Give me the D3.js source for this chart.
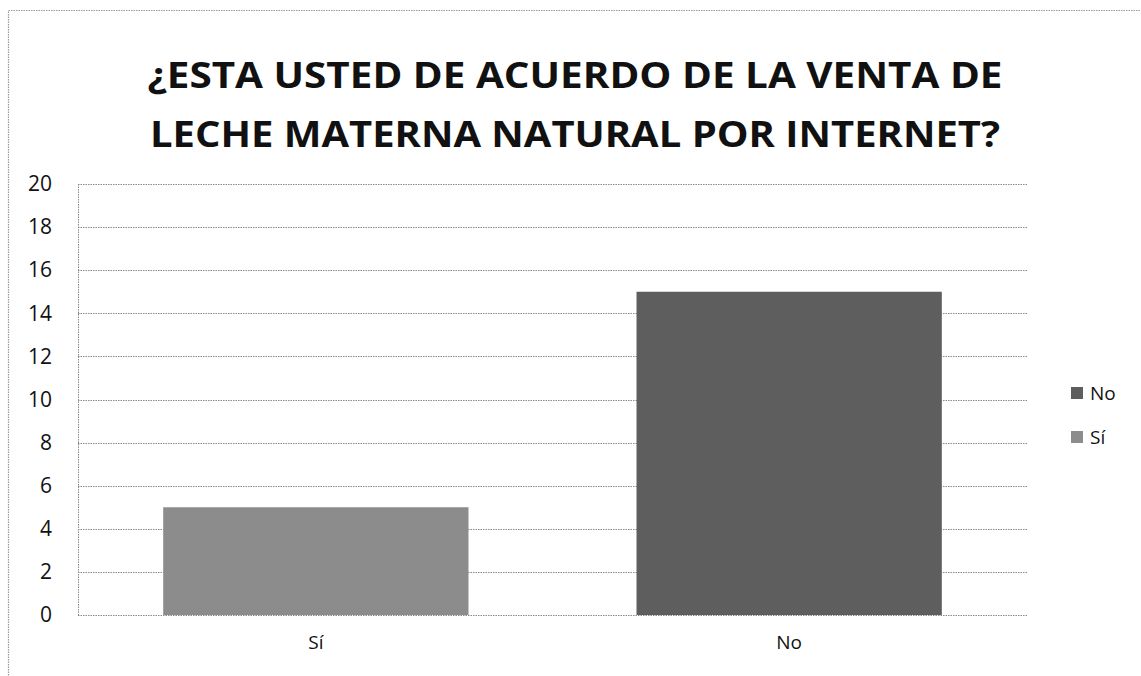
<!DOCTYPE html>
<html>
<head>
<meta charset="utf-8">
<script src="https://cdn.jsdelivr.net/npm/d3@7"></script>
<style>
  html, body { margin: 0; padding: 0; background: #fff; }
  svg { display: block; }
</style>
</head>
<body>
<svg id="chart" width="1141" height="676"></svg>
<script>
// Survey answers
const categories = ["Sí", "No"];
const values = [5, 15];
const barColors = ["#8c8c8c", "#5e5e5e"];
const yTicks = [0, 2, 4, 6, 8, 10, 12, 14, 16, 18, 20];
const titleLines = ["¿ESTA USTED DE ACUERDO DE LA VENTA DE", "LECHE MATERNA NATURAL POR INTERNET?"];
const legendItems = ["No", "Sí"];
const legendColors = ["#5e5e5e", "#8c8c8c"];

const svg = d3.select("#chart");
const W = 1141, H = 676;
const margin = { left: 78, right: 114, top: 184, bottom: 61 };
const plotW = W - margin.left - margin.right;
const plotH = H - margin.top - margin.bottom;

// Outer chart frame
svg.append("rect")
  .attr("x", 8.5).attr("y", 10.5)
  .attr("width", 1200).attr("height", 700)
  .attr("fill", "none")
  .attr("stroke", "#9a9a9a")
  .attr("stroke-width", 1.2)
  .attr("stroke-dasharray", "1.5,1");

// Title
const titleFont = "'Open Sans', 'DejaVu Sans', sans-serif";
const titleG = svg.append("g");
const titleBaselines = [88, 147];
titleLines.forEach((t, i) => {
  titleG.append("text")
    .attr("x", 575)
    .attr("y", titleBaselines[i])
    .attr("text-anchor", "middle")
    .attr("font-family", titleFont)
    .attr("font-weight", 700)
    .attr("font-size", 36)
    .attr("fill", "#111")
    .attr("textLength", i === 0 ? 855 : 850)
    .attr("lengthAdjust", "spacingAndGlyphs")
    .text(t);
});

const g = svg.append("g").attr("transform", `translate(${margin.left},${margin.top})`);

const x = d3.scaleBand().domain(categories).range([0, plotW]).paddingInner(0.355).paddingOuter(0.18);
const y = d3.scaleLinear().domain([0, 20]).range([plotH, 0]);

// Gridlines
g.append("g")
  .selectAll("line")
  .data(yTicks)
  .join("line")
  .attr("x1", 0).attr("x2", plotW)
  .attr("y1", d => Math.round(y(d)) + 0.5).attr("y2", d => Math.round(y(d)) + 0.5)
  .attr("stroke", "#8a8a8a")
  .attr("stroke-width", 1)
  .attr("stroke-dasharray", "1.5,1");

// Left axis line of plot area
g.append("line")
  .attr("x1", 0.5).attr("x2", 0.5)
  .attr("y1", 0).attr("y2", plotH)
  .attr("stroke", "#8a8a8a")
  .attr("stroke-dasharray", "1.5,1");

// Bars
g.selectAll("rect.bar")
  .data(categories)
  .join("rect")
  .attr("class", "bar")
  .attr("x", d => x(d))
  .attr("width", x.bandwidth())
  .attr("y", (d, i) => y(values[i]))
  .attr("height", (d, i) => plotH - y(values[i]))
  .attr("fill", (d, i) => barColors[i]);

const labelFont = "'Open Sans', 'DejaVu Sans', sans-serif";

// Y axis labels
const yAxis = d3.axisLeft(y).tickValues(yTicks).tickSize(0).tickPadding(26);
const ya = g.append("g").call(yAxis);
ya.attr("font-size", null).attr("font-family", null);
ya.select(".domain").remove();
ya.selectAll("text")
  .style("font-family", labelFont)
  .style("font-size", "21px")
  .attr("fill", "#111");

// X axis labels
const xAxis = d3.axisBottom(x).tickSize(0).tickPadding(21);
const xa = g.append("g").attr("transform", `translate(0,${plotH})`).call(xAxis);
xa.attr("font-size", null).attr("font-family", null);
xa.select(".domain").remove();
xa.selectAll("text")
  .style("font-family", labelFont)
  .style("font-size", "19px")
  .attr("fill", "#111");

// Legend
const legend = svg.append("g").attr("transform", "translate(1071,387)");
legendItems.forEach((name, i) => {
  const row = legend.append("g").attr("transform", `translate(0,${i * 44})`);
  row.append("rect").attr("x", 0).attr("y", 0).attr("width", 12).attr("height", 12)
    .attr("fill", legendColors[i]);
  row.append("text").attr("x", 19).attr("y", 13)
    .style("font-family", labelFont).style("font-size", "19px").attr("fill", "#111")
    .text(name);
});
</script>
</body>
</html>
